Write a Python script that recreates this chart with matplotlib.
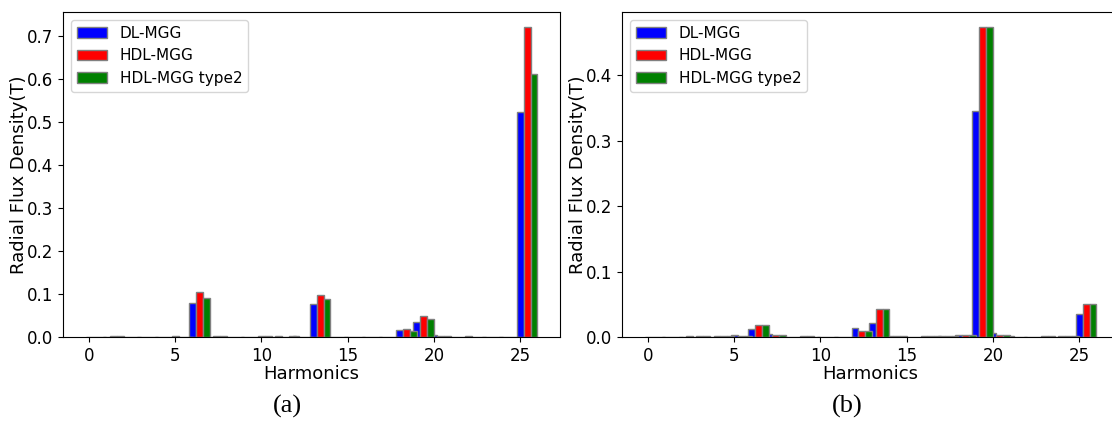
import numpy as np
import matplotlib.pyplot as plt

harmonics = np.arange(26)
labels = ['DL-MGG', 'HDL-MGG', 'HDL-MGG type2']
colors = ['blue', 'red', 'green']

# (a)
a_dl = [0, 0, 0.001, 0.001, 0, 0.003, 0.080, 0.001, 0.001, 0, 0.002, 0.003, 0.002,
        0.076, 0.001, 0.001, 0, 0.001, 0.016, 0.036, 0.005, 0, 0.002, 0, 0.001, 0.523]
a_hdl = [0, 0.002, 0.001, 0, 0.001, 0.001, 0.104, 0.002, 0.001, 0, 0.002, 0.001, 0,
         0.097, 0.001, 0.001, 0, 0.001, 0.018, 0.049, 0.002, 0, 0, 0, 0.001, 0.721]
a_hdl2 = [0, 0.002, 0.001, 0, 0.001, 0.001, 0.090, 0.002, 0.001, 0, 0.001, 0.002, 0,
          0.088, 0.001, 0, 0, 0.001, 0.013, 0.042, 0.003, 0, 0, 0, 0.001, 0.613]

# (b)
b_dl = [0, 0, 0, 0.002, 0.001, 0.003, 0.012, 0.004, 0, 0.001, 0, 0, 0.013,
        0.021, 0.002, 0, 0.001, 0.001, 0.003, 0.345, 0.006, 0.001, 0, 0.001, 0.002, 0.035]
b_hdl = [0, 0, 0.001, 0.001, 0.001, 0.002, 0.019, 0.003, 0, 0.001, 0, 0, 0.009,
         0.043, 0.002, 0, 0.001, 0.001, 0.003, 0.473, 0.003, 0, 0, 0.001, 0.001, 0.050]
b_hdl2 = [0, 0, 0, 0, 0.001, 0.002, 0.019, 0.003, 0, 0, 0, 0, 0.009,
          0.043, 0.002, 0, 0.001, 0.001, 0.003, 0.473, 0.003, 0, 0, 0, 0.001, 0.050]

width = 0.4

fig = plt.figure(figsize=(11.12, 4.22), dpi=100)
ax1 = fig.add_axes([63/1112, 1-337/422, 497/1112, 325/422])
ax2 = fig.add_axes([622/1112, 1-337/422, 497/1112, 325/422])

def draw(ax, series):
    for i, (vals, lab, col) in enumerate(zip(series, labels, colors)):
        ax.bar(harmonics + i*width, vals, width, color=col, edgecolor='grey',
               linewidth=1, label=lab)
    ax.set_xlabel('Harmonics', fontsize=13, labelpad=0)
    ax.set_ylabel('Radial Flux Density(T)', fontsize=13, labelpad=-1)
    ax.tick_params(labelsize=12)
    ax.set_xticks([0, 5, 10, 15, 20, 25])
    ax.legend(loc='upper left', fontsize=11)

draw(ax1, [a_dl, a_hdl, a_hdl2])
draw(ax2, [b_dl, b_hdl, b_hdl2])

fig.text(287/1112, 1-406/422, '(a)', ha='center', va='center', fontsize=19,
         family='Liberation Serif')
fig.text(847/1112, 1-406/422, '(b)', ha='center', va='center', fontsize=19,
         family='Liberation Serif')

plt.savefig('out.png', dpi=100)
